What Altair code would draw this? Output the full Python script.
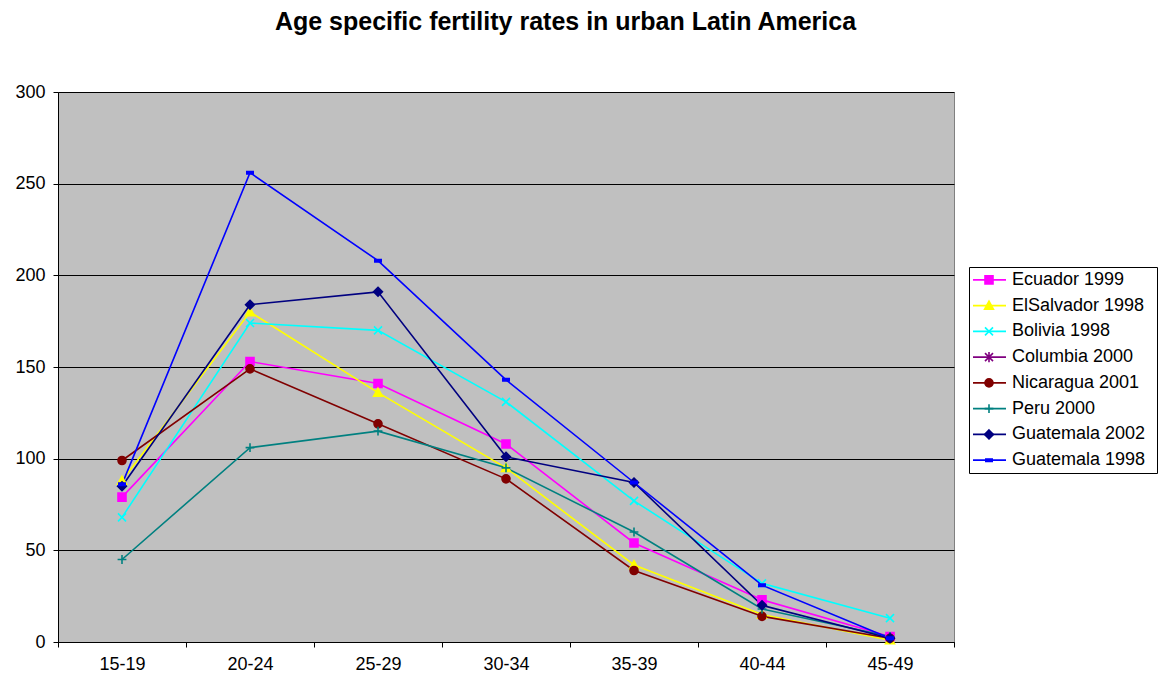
import altair as alt
import pandas as pd

# Age groups on the x axis
AGE_GROUPS = ["15-19", "20-24", "25-29", "30-34", "35-39", "40-44", "45-49"]

# Births per 1000 women, urban areas
ecuador_1999 = [79, 153, 141, 108, 54, 23, 3]
elsalvador_1998 = [88, 180, 136, 95, 42, 15, 1]
bolivia_1998 = [68, 174, 170, 131, 77, 32, 13]
columbia_2000 = [None, None, None, None, None, None, None]
nicaragua_2001 = [99, 149, 119, 89, 39, 14, 2]
peru_2000 = [45, 106, 115, 95, 60, 18, 3]
guatemala_2002 = [85, 184, 191, 101, 87, 20, 2]
guatemala_1998 = [86, 256, 208, 143, 87, 31, 2]

SERIES = [
    "Ecuador 1999", "ElSalvador 1998", "Bolivia 1998", "Columbia 2000",
    "Nicaragua 2001", "Peru 2000", "Guatemala 2002", "Guatemala 1998",
]
VALUES = [
    ecuador_1999, elsalvador_1998, bolivia_1998, columbia_2000,
    nicaragua_2001, peru_2000, guatemala_2002, guatemala_1998,
]
COLORS = ["#FF00FF", "#FFFF00", "#00FFFF", "#800080",
          "#800000", "#008080", "#000080", "#0000FF"]
SHAPES = [
    "M-1,-1H1V1H-1Z",                          # square
    "M0,-1.1L1.1,0.9H-1.1Z",                   # triangle
    "M-1,-1L1,1M-1,1L1,-1",                    # x
    "M-1,-1L1,1M-1,1L1,-1M0,-1.3V1.3",         # asterisk
    "circle",
    "M-1.1,0H1.1M0,-1.1V1.1",                  # plus
    "M0,-1.1L1.1,0L0,1.1L-1.1,0Z",             # diamond
    "M-0.8,-0.3H0.8V0.3H-0.8Z",                # dash
]

FONT = "Liberation Sans"

rows = []
for name, vals in zip(SERIES, VALUES):
    for age, v in zip(AGE_GROUPS, vals):
        rows.append({"series": name, "age": age, "rate": v})
df = pd.DataFrame(rows)

color_scale = alt.Scale(domain=SERIES, range=COLORS)
shape_scale = alt.Scale(domain=SERIES, range=SHAPES)

base = alt.Chart(df).encode(
    x=alt.X(
        "age:N", sort=AGE_GROUPS, bandPosition=0.5,
        scale=alt.Scale(type="band", paddingInner=0, paddingOuter=0),
        axis=alt.Axis(
            title=None, tickBand="extent", grid=False, labelAngle=0,
            domainColor="black", tickColor="black", tickSize=5,
            labelFont=FONT, labelFontSize=18, labelColor="black", labelPadding=8,
        ),
    ),
    y=alt.Y(
        "rate:Q", scale=alt.Scale(domain=[0, 300], nice=False),
        axis=alt.Axis(
            title=None, values=[0, 50, 100, 150, 200, 250, 300],
            grid=True, gridColor="black", gridWidth=1,
            domainColor="black", tickColor="black", tickSize=5,
            labelFont=FONT, labelFontSize=18, labelColor="black", labelPadding=8,
            minExtent=52, maxExtent=52,
        ),
    ),
    color=alt.Color("series:N", scale=color_scale, legend=None),
)

lines = base.mark_line(strokeWidth=1.6)
points = base.mark_point(filled=True, size=64, strokeWidth=1.6, opacity=1).encode(
    shape=alt.Shape("series:N", scale=shape_scale, legend=None),
    stroke=alt.Stroke("series:N", scale=color_scale, legend=None),
)

main = alt.layer(lines, points).properties(
    width=896, height=550,
    view=alt.ViewBackground(fill="#C0C0C0", stroke="#808080", strokeWidth=1),
)

# Legend box: line sample, marker and label for each series
legend_df = pd.DataFrame({"series": SERIES})
leg_base = alt.Chart(legend_df).encode(
    y=alt.Y("series:N", sort=SERIES, axis=None,
            scale=alt.Scale(type="point", padding=0.5)),
)
leg_lines = leg_base.mark_rule(strokeWidth=1.6).encode(
    x=alt.value(4), x2=alt.value(37),
    color=alt.Color("series:N", scale=color_scale, legend=None),
)
leg_points = leg_base.mark_point(filled=True, size=64, strokeWidth=1.6, opacity=1).encode(
    x=alt.value(20),
    color=alt.Color("series:N", scale=color_scale, legend=None),
    shape=alt.Shape("series:N", scale=shape_scale, legend=None),
    stroke=alt.Stroke("series:N", scale=color_scale, legend=None),
)
leg_text = leg_base.mark_text(
    align="left", baseline="middle", font=FONT, fontSize=18
).encode(x=alt.value(43), text="series:N", color=alt.value("black"))

legend_box = alt.layer(leg_lines, leg_points, leg_text).properties(
    width=188, height=206,
    view=alt.ViewBackground(fill="white", stroke="black", strokeWidth=1),
)

spacer = alt.Chart(pd.DataFrame({"a": [0]})).mark_point(opacity=0).encode(
    x=alt.value(0), y=alt.value(0)
).properties(
    width=188, height=173,
    view=alt.ViewBackground(fill="transparent", stroke="transparent"),
)

legend_col = alt.vconcat(spacer, legend_box, spacing=0)

chart = alt.hconcat(main, legend_col, spacing=10).properties(
    title=alt.TitleParams(
        "Age specific fertility rates in urban Latin America",
        font=FONT, fontSize=25, fontWeight="bold", color="black",
        anchor="middle", dx=-16, offset=48,
    ),
    padding={"left": 5, "top": 9, "right": 5, "bottom": 5},
    background="white",
).resolve_scale(color="shared", shape="shared", y="independent")

chart.save("out.html", embed_options={"renderer": "svg", "actions": False})
